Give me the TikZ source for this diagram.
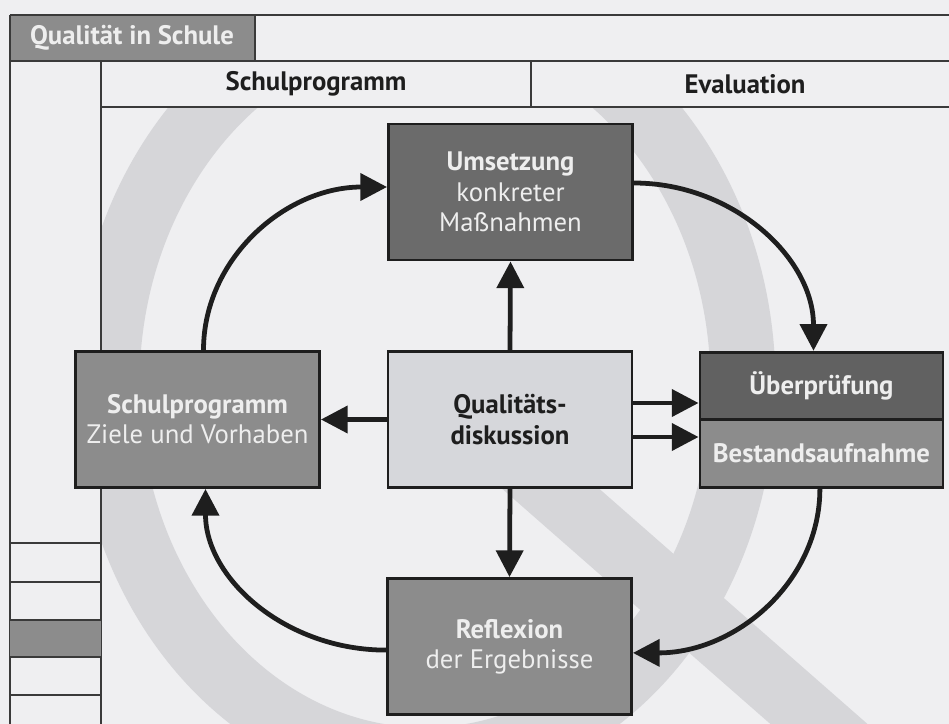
\documentclass[tikz,border=0pt]{standalone}
\usepackage{fontspec}
\setmainfont{PT Sans}
\usetikzlibrary{arrows.meta}
\definecolor{paper}{HTML}{EFEFF1}
\definecolor{markgrey}{HTML}{D6D6D9}
\definecolor{rulecol}{HTML}{3A3A3A}
\definecolor{darkfill}{HTML}{6B6B6B}
\definecolor{darkerfill}{HTML}{616161}
\definecolor{midfill}{HTML}{8C8C8C}
\definecolor{lightfill}{HTML}{D6D7DB}
\definecolor{inktext}{HTML}{1E1E1E}
\definecolor{whitetext}{HTML}{EEEEEE}
\begin{document}
\begin{tikzpicture}[x=0.025cm,y=-0.025cm,
  rule/.style={draw=rulecol,line width=1.3pt},
  boxtext/.style={font=\fontsize{19}{21.5}\selectfont,align=center},
  box/.style={boxtext,draw=inktext,line width=2pt,inner sep=0pt,
    minimum width=6.1cm,minimum height=3.4cm},
  darkbox/.style={box,fill=darkfill,text=whitetext},
  midbox/.style={box,fill=midfill,text=whitetext},
  lightbox/.style={box,fill=lightfill,text=inktext},
  halfbox/.style={boxtext,draw=inktext,line width=2pt,inner sep=0pt,
    minimum width=6.075cm,minimum height=1.69cm,text=whitetext,font=\fontsize{19}{21.5}\selectfont\bfseries},
  headtext/.style={font=\fontsize{19}{21.5}\selectfont\bfseries,inner sep=0pt},
  arr/.style={draw=inktext,line width=3.4pt,
    -{Triangle[length=19pt,width=19pt]}}]
\useasboundingbox (0,0) rectangle (949,724);
\fill[paper] (0,0) rectangle (949,724);

% faint Q watermark behind the diagram panel
\begin{scope}
  \clip (101,107) rectangle (949,724);
  \draw[markgrey,line width=1.625cm] (425,385) ellipse [x radius=318, y radius=375];
  \draw[markgrey,line width=1.6cm] (470,418) -- (860,760);
\end{scope}

% table frame
\fill[midfill] (10,15) rectangle (255,61);
\node[headtext,text=whitetext] (title) at (132,38) {Qualität in Schule};
\draw[rule] (10,15) -- (949,15);
\draw[rule] (10,61) -- (949,61);
\draw[rule] (101,107) -- (949,107);
\draw[rule] (10,15) -- (10,724);
\draw[rule] (255,15) -- (255,61);
\draw[rule] (101,61) -- (101,724);
\draw[rule] (531,61) -- (531,107);
\node[headtext,text=inktext] (colA) at (316,84) {Schulprogramm};
\node[headtext,text=inktext] (colB) at (745,84) {Evaluation};

% left margin column
\fill[midfill] (10,620) rectangle (101,657);
\foreach \yy in {543,582,620,657,695}
  \draw[rule] (10,\yy) -- (101,\yy);

% boxes
\node[darkbox] (u) at (510.5,192) {\textbf{Umsetzung}\\konkreter\\Maßnahmen};
\node[lightbox] (q) at (510,419.5) {\textbf{Qualitäts-}\\\textbf{diskussion}};
\node[midbox] (s) at (197.5,419.5) {\textbf{Schulprogramm}\\Ziele und Vorhaben};
\node[midbox] (r) at (509.5,646.5) {\textbf{Reflexion}\\der Ergebnisse};
\node[halfbox,fill=darkerfill] (pu) at (821.5,386) {Überprüfung};
\node[halfbox,fill=midfill] (ba) at (821.5,453.5) {Bestandsaufnahme};

% straight arrows out of the discussion
\coordinate (ya) at (0,403);
\coordinate (yb) at (0,437);
\draw[arr] (q.north) -- (u.south);
\draw[arr] (q.south) -- (r.north);
\draw[arr] (q.west) -- (s.east);
\draw[arr] (q.east |- ya) -- (pu.west |- ya);
\draw[arr] (q.east |- yb) -- (ba.west |- yb);

% the cycle
\draw[arr] ([xshift=0.15cm]s.north) .. controls +(0,-91) and +(-102,0) .. ([yshift=0.125cm]u.west);
\draw[arr] ([yshift=0.225cm]u.east) .. controls +(99,0) and +(0,-93) .. ([xshift=-0.2cm]pu.north);
\draw[arr] ([xshift=-0.04cm]ba.south) .. controls +(0,92) and +(104,0) .. ([yshift=-0.16cm]r.east);
\draw[arr] ([yshift=-0.09cm]r.west) .. controls +(-100,0) and +(0,90) .. ([xshift=0.2cm]s.south);
\end{tikzpicture}
\end{document}
